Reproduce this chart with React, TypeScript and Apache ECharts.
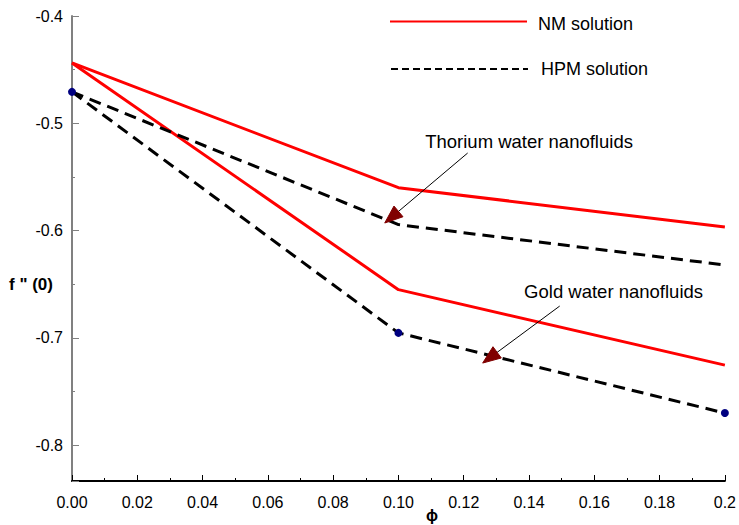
import React, { useEffect, useRef } from "react";
import * as echarts from "echarts";

// phi values (x axis)
const phi = [0, 0.1, 0.2];
// f''(0) values
const nmThorium = [-0.4437, -0.56, -0.5966];
const nmGold = [-0.4437, -0.655, -0.7253];
const hpmThorium = [-0.4707, -0.5944, -0.632];
const hpmGold = [-0.4707, -0.6953, -0.77];

// axis ranges
const xRange = [0, 0.2];
const yRange = [-0.8333, -0.4];

// annotation anchors in data units: [startX, startY, tipX, tipY]
const thoriumArrow = [0.1212, -0.5277, 0.0958, -0.5929];
const goldArrow = [0.1494, -0.6703, 0.1258, -0.7234];
const thoriumLabelAt = [0.1082, -0.5165];
const goldLabelAt = [0.1385, -0.6563];

const FONT = "'Liberation Sans', Arial, Helvetica, sans-serif";

export default function App() {
  const ref = useRef<HTMLDivElement>(null);
  useEffect(() => {
    document.body.style.margin = "0";
    const chart = echarts.init(ref.current!, null, { renderer: "svg" });
    const zip = (ys: number[]) => phi.map((x, i) => [x, ys[i]]);
    chart.setOption({
      animation: false,
      backgroundColor: "#ffffff",
      grid: { left: 72, right: 7, top: 16, bottom: 44, containLabel: false },
      xAxis: {
        type: "value",
        min: xRange[0],
        max: xRange[1],
        interval: 0.02,
        axisLine: { show: true, onZero: false, lineStyle: { color: "#000", width: 2 } },
        axisTick: { show: true, inside: true, length: 6, lineStyle: { color: "#000", width: 1 } },
        minorTick: { show: true, splitNumber: 2, length: 3, lineStyle: { color: "#000", width: 1 } },
        splitLine: { show: false },
        minorSplitLine: { show: false },
        axisLabel: {
          color: "#000",
          fontSize: 16,
          fontFamily: FONT,
          margin: 13,
          formatter: (v: number) => (Math.abs(v - 0.2) < 1e-9 ? "0.2" : v.toFixed(2)),
        },
      },
      yAxis: {
        type: "value",
        min: yRange[0],
        max: yRange[1],
        splitNumber: 5,
        axisLine: { show: true, onZero: false, lineStyle: { color: "#808080", width: 2 } },
        axisTick: { show: true, inside: true, length: 7, lineStyle: { color: "#808080", width: 1 } },
        minorTick: { show: true, splitNumber: 2, length: 3, lineStyle: { color: "#808080", width: 1 } },
        splitLine: { show: false },
        axisLabel: {
          color: "#000",
          fontSize: 16,
          fontFamily: FONT,
          margin: 9,
          showMinLabel: false,
          formatter: (v: number) => v.toFixed(1),
        },
      },
      series: [
        {
          name: "NM solution",
          type: "line",
          data: zip(nmThorium),
          showSymbol: false,
          symbol: "none",
          lineStyle: { color: "#ff0000", width: 3 },
        },
        {
          name: "NM solution",
          type: "line",
          data: zip(nmGold),
          showSymbol: false,
          symbol: "none",
          lineStyle: { color: "#ff0000", width: 3 },
        },
        {
          name: "HPM solution",
          type: "line",
          data: zip(hpmThorium),
          showSymbol: false,
          symbol: "none",
          lineStyle: { color: "#000", width: 3, type: [12, 7] },
        },
        {
          name: "HPM solution",
          type: "line",
          data: zip(hpmGold),
          symbol: "circle",
          symbolSize: 8,
          showSymbol: true,
          itemStyle: { color: "#000080" },
          lineStyle: { color: "#000", width: 3, type: [12, 7] },
        },
      ],
    });

    const px = (x: number, y: number) => chart.convertToPixel({ gridIndex: 0 }, [x, y]) as number[];
    const arrow = (a: number[]) => {
      const s = px(a[0], a[1]);
      const t = px(a[2], a[3]);
      const dx = t[0] - s[0];
      const dy = t[1] - s[1];
      const len = Math.sqrt(dx * dx + dy * dy);
      const ux = dx / len;
      const uy = dy / len;
      const nx = -uy;
      const ny = ux;
      const headLen = 18;
      const headHalf = 7;
      const bx = t[0] - ux * headLen;
      const by = t[1] - uy * headLen;
      return [
        {
          type: "line",
          shape: { x1: s[0], y1: s[1], x2: bx + ux * 2, y2: by + uy * 2 },
          style: { stroke: "#000", lineWidth: 1 },
          z: 100,
        },
        {
          type: "polygon",
          shape: {
            points: [
              [t[0], t[1]],
              [bx + nx * headHalf, by + ny * headHalf],
              [bx - nx * headHalf, by - ny * headHalf],
            ],
          },
          style: { fill: "#800000", stroke: "#800000", lineWidth: 1 },
          z: 101,
        },
      ];
    };
    const tl = px(thoriumLabelAt[0], thoriumLabelAt[1]);
    const gl = px(goldLabelAt[0], goldLabelAt[1]);
    const textStyle = (text: string, size: number, weight: string = "normal") => ({
      text,
      fill: "#000",
      font: `${weight} ${size}px ${FONT}`,
      verticalAlign: "middle",
    });

    chart.setOption({
      graphic: [
        // legend
        {
          type: "line",
          shape: { x1: 390, y1: 21.5, x2: 527, y2: 21.5 },
          style: { stroke: "#ff0000", lineWidth: 2 },
        },
        { type: "text", x: 538, y: 24, style: textStyle("NM solution", 18) },
        {
          type: "line",
          shape: { x1: 391, y1: 69, x2: 528, y2: 69 },
          style: { stroke: "#000", lineWidth: 2, lineDash: [7, 4] },
        },
        { type: "text", x: 541, y: 69, style: textStyle("HPM solution", 18) },
        // annotations
        { type: "text", x: tl[0], y: tl[1], style: textStyle("Thorium water nanofluids", 18.5) },
        ...arrow(thoriumArrow),
        { type: "text", x: gl[0], y: gl[1], style: textStyle("Gold water nanofluids", 18.5) },
        ...arrow(goldArrow),
        // axis names
        { type: "text", x: 9, y: 284, style: textStyle('f " (0)', 17, "bold") },
        {
          type: "text",
          x: 432,
          y: 515,
          style: { ...textStyle("\u03d5", 16, "bold"), align: "center" },
        },
      ],
    });

    return () => chart.dispose();
  }, []);
  return (
    <div
      ref={ref}
      style={{ position: "absolute", left: 0, top: 0, width: 739, height: 525 }}
    />
  );
}
